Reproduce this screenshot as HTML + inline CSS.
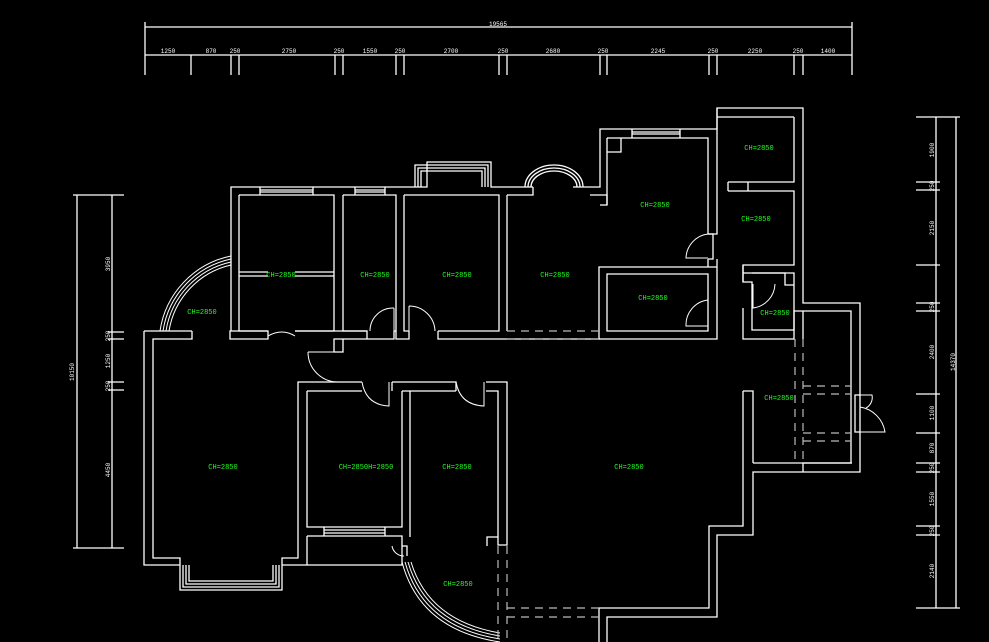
<!DOCTYPE html>
<html><head><meta charset="utf-8"><style>
html,body{margin:0;padding:0;background:#000;}
svg{display:block}
.w{fill:none;stroke:#fff;stroke-width:1.3}
.d{fill:none;stroke:#bbb;stroke-width:1.2;stroke-dasharray:8,6}
.g{fill:#22ff22;font-family:"Liberation Mono",monospace;font-size:7px;text-anchor:middle}
.t{fill:#fff;font-family:"Liberation Mono",monospace;font-size:6px;text-anchor:middle}
</style></head><body>
<svg width="989" height="642" viewBox="0 0 989 642" xmlns="http://www.w3.org/2000/svg">
<rect width="989" height="642" fill="#000"/>
<!-- top dimensions -->
<g class="w">
<path d="M145,27H852M145,55H852"/>
<path d="M145,22V75M852,22V75M191,55V75M231,55V75M239,55V75M335,55V75M343,55V75M396,55V75M404,55V75M499,55V75M507,55V75M600,55V75M607,55V75M709,55V75M717,55V75M794,55V75M803,55V75"/>
</g>
<g class="t">
<text x="498" y="26">19565</text>
<text x="168" y="53">1250</text><text x="211" y="53">870</text><text x="235" y="53">250</text>
<text x="289" y="53">2750</text><text x="339" y="53">250</text><text x="370" y="53">1550</text>
<text x="400" y="53">250</text><text x="451" y="53">2700</text><text x="503" y="53">250</text>
<text x="553" y="53">2680</text><text x="603" y="53">250</text><text x="658" y="53">2245</text>
<text x="713" y="53">250</text><text x="755" y="53">2250</text><text x="798" y="53">250</text><text x="828" y="53">1400</text>
</g>
<!-- left dims -->
<g class="w">
<path d="M77,195V548M112,195V548"/>
<path d="M73,195H124M73,548H124M108,332H124M108,339H124M108,382H124M108,390H124"/>
</g>
<g class="t">
<text transform="translate(74,372) rotate(-90)">10150</text>
<text transform="translate(110,264) rotate(-90)">3950</text>
<text transform="translate(110,336) rotate(-90)">250</text>
<text transform="translate(110,361) rotate(-90)">1250</text>
<text transform="translate(110,386) rotate(-90)">250</text>
<text transform="translate(110,470) rotate(-90)">4450</text>
</g>
<!-- right dims -->
<g class="w">
<path d="M936,117V608M956,117V608"/>
<path d="M916,117H960M916,182H940M916,190H940M916,265H940M916,303H940M916,311H940M916,394H940M916,433H940M916,463H940M916,472H940M916,526H940M916,535H940M916,608H960"/>
</g>
<g class="t">
<text transform="translate(934,150) rotate(-90)">1900</text>
<text transform="translate(934,186) rotate(-90)">250</text>
<text transform="translate(934,228) rotate(-90)">2150</text>
<text transform="translate(934,307) rotate(-90)">250</text>
<text transform="translate(934,352) rotate(-90)">2400</text>
<text transform="translate(934,413) rotate(-90)">1100</text>
<text transform="translate(934,448) rotate(-90)">870</text>
<text transform="translate(934,468) rotate(-90)">250</text>
<text transform="translate(934,499) rotate(-90)">1550</text>
<text transform="translate(934,531) rotate(-90)">250</text>
<text transform="translate(934,571) rotate(-90)">2140</text>
<text transform="translate(955,362) rotate(-90)">14370</text>
</g>
<!-- walls -->
<g class="w">
<!-- top outer -->
<path d="M231,331V187H427V162H491V187H533M525,187M573,187H600V129H717V108H803V303H860V395M860,432V472H753V535H717V617H607V642"/>
<!-- bay window top -->
<path d="M415,187V165H488V187M418,187V168H485V187M421,187V171H482V187"/>
<path d="M525,187A29,22 0 0 1 583,187M528,187A26,19 0 0 1 580,187M531,187A23,16 0 0 1 577,187"/>
<!-- windows top -->
<path d="M260,187V195M313,187V195M260,190H313M260,192H313M355,187V195M385,187V195M355,190H385M355,192H385"/>
<path d="M632,129V138M680,129V138M632,132H680M632,134H680"/>
<!-- room inner rects row -->
<path d="M239,195H334V331H295M239,195V331H268"/>
<path d="M239,272H268M239,276H268M295,272H334M295,276H334"/>
<path d="M343,195H396V331H394M343,195V331H367"/>
<path d="M404,195H499V331H438M404,195V331H409"/>
<path d="M507,195H533V187M507,195V331"/>
<path d="M230,331H268V339H230ZM295,331H367V339H334V352H343V339H394V331M396,331V339H409V331M438,331V339H600"/>
<path d="M590,195H607V205H600"/>
<!-- kitchen -->
<path d="M607,138H708V234H713V259H708V259M607,138V205M607,138H621V152H607"/>
<path d="M717,108V234H708M717,259V267H599V339H717V267M607,274H708V331H607ZM708,259V267"/>
<path d="M794,117V182H748V191H794V265H743V282H752V330H794V273H743M752,273H794M717,117H794M728,182V191M728,182H748M728,191H748"/>
<path d="M743,265V282M743,308V339H794V311H851V463H803V472M803,311V339M752,273H785V285H794"/>
<!-- living room -->
<path d="M192,331V339H153V558H180V590H282V558H298V382H362M392,382H456V391M486,382H507V545H498V537H487V546M144,331H192M144,331V565H180M282,565H298"/>
<path d="M183,565V587H279V565M186,565V584H276V565M189,565V581H273V565"/>
<path d="M307,391H362M392,391V382M402,391H410V537M307,391V527H402V391M410,391H456M486,391H498V537"/>
<path d="M307,536H402V546H407V556M307,536V565H402V546M298,565H307"/>
<path d="M324,527V536M385,527V536M324,530H385M324,533H385"/>
<!-- right lower -->
<path d="M743,391H753V463M743,391V526H709V608H599V642M753,463H852M753,472"/>
<path d="M855,395H860V432H855Z"/>
</g>
<!-- bay arcs -->
<g class="w" style="stroke-width:1">
<path d="M231,256A90,90 0 0 0 160,331M231,259A87,87 0 0 0 163,331M231,262A84,84 0 0 0 166,331M231,265A81,81 0 0 0 169,331"/>
<path d="M402,562Q420,630 500,642M405,562Q423,627 500,639M408,562Q426,624 500,636M411,562Q429,621 500,633"/>
<path d="M268,336Q282,328 295,336"/>
</g>
<!-- doors -->
<g class="w" style="stroke-width:1">
<path d="M394,308V331M394,308A23,23 0 0 0 370,331"/>
<path d="M409,306V331M409,306A26,26 0 0 1 435,331"/>
<path d="M308,352H338M308,352A30,30 0 0 0 338,382"/>
<path d="M362,382Q366,405 389,406V382"/>
<path d="M456,382Q460,405 484,406V382"/>
<path d="M708,234A25,25 0 0 0 686,258H708M708,300A25,25 0 0 0 686,326H708"/>
<path d="M775,284A25,25 0 0 1 753,308V284"/>
<path d="M860,407A30,30 0 0 1 885,432H860M860,395H872A12,12 0 0 1 866,408"/>
<path d="M392,546A12,12 0 0 0 404,556"/>
</g>
<!-- dashed -->
<g class="d">
<path d="M507,331H599M507,339H599"/>
<path d="M795,339V463M803,339V463M803,386H851M803,394H851M803,433H851M803,441H851"/>
<path d="M498,546V642M507,546V642M507,608H599M507,617H599"/>
</g>
<!-- labels -->
<g class="g">
<text x="281" y="277">CH=2850</text><text x="375" y="277">CH=2850</text>
<text x="457" y="277">CH=2850</text><text x="555" y="277">CH=2850</text>
<text x="202" y="314">CH=2850</text><text x="759" y="150">CH=2850</text>
<text x="655" y="207">CH=2850</text><text x="756" y="221">CH=2850</text>
<text x="653" y="300">CH=2850</text><text x="775" y="315">CH=2850</text>
<text x="779" y="400">CH=2850</text><text x="223" y="469">CH=2850</text>
<text x="366" y="469">CH=2850H=2850</text><text x="457" y="469">CH=2850</text>
<text x="629" y="469">CH=2850</text><text x="458" y="586">CH=2850</text>
</g>
</svg>
</body></html>
